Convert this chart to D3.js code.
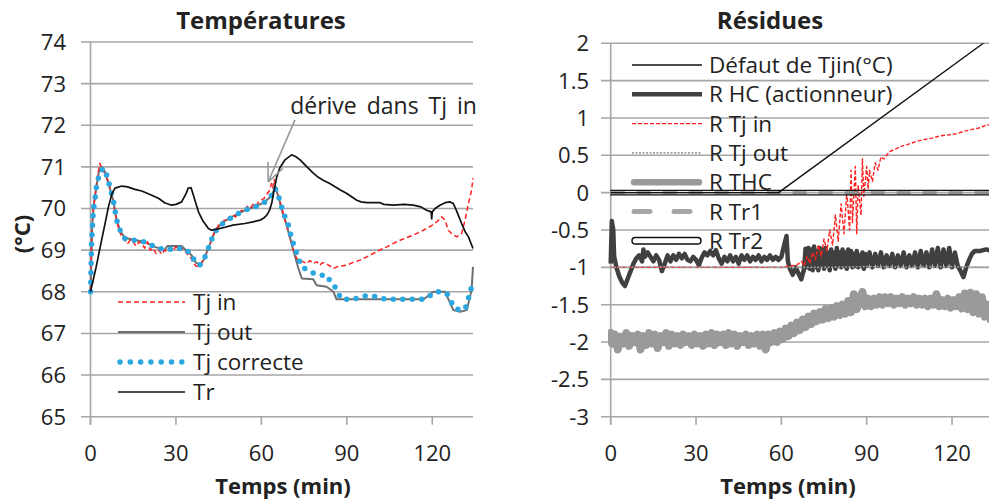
<!DOCTYPE html>
<html><head><meta charset="utf-8">
<script src="https://cdn.jsdelivr.net/npm/d3@7"></script>
<style>
html,body{margin:0;padding:0;background:#fff;}
text{font-family:"Open Sans","Noto Sans",sans-serif;fill:#222;}
</style></head>
<body>
<svg id="c" width="989" height="504"></svg>
<script>
// ---------- DATA ----------
const xTicks = [0, 30, 60, 90, 120];
const leftYTicks = [65, 66, 67, 68, 69, 70, 71, 72, 73, 74];
const rightYTicks = [-3, -2.5, -2, -1.5, -1, -0.5, 0, 0.5, 1, 1.5, 2];
const leftLegend = ["Tj in", "Tj out", "Tj correcte", "Tr"];
const rightLegend = ["Défaut de Tjin(°C)", "R HC (actionneur)", "R Tj in", "R Tj out", "R THC", "R Tr1", "R Tr2"];

const tr = [[0,68.0],[1,68.3],[2,68.6],[2.7,68.84],[3.9,69.24],[5,69.6],[6.3,70.04],[7.5,70.35],[8.6,70.49],[11,70.54],[13,70.52],[15.6,70.46],[18,70.42],[21.5,70.32],[24,70.24],[26,70.14],[28.5,70.08],[30,70.1],[32,70.16],[33.5,70.35],[34.3,70.49],[35.3,70.5],[36,70.35],[37.9,69.92],[39.5,69.7],[41.4,69.52],[42.5,69.48],[44,69.5],[47.2,69.55],[50,69.6],[54.2,69.64],[57,69.68],[59.5,69.72],[61,69.78],[61.9,69.84],[62.8,69.95],[63.6,70.12],[64.5,70.45],[65.4,70.76],[66.5,70.98],[68.3,71.17],[70.6,71.29],[72,71.25],[73.6,71.17],[76,71.0],[78.2,70.85],[80,70.75],[81.7,70.68],[84,70.6],[87.6,70.45],[90,70.36],[93.5,70.2],[95,70.16],[97,70.14],[101.7,70.14],[103,70.1],[106.3,70.08],[110,70.1],[113.3,70.08],[116,70.04],[118,69.96],[119.6,69.92],[119.8,69.75],[120,69.92],[121,70.0],[122.7,70.08],[124.5,70.14],[126.2,70.16],[127.4,70.12],[128.5,69.95],[130.3,69.64],[131.5,69.45],[132.7,69.32],[134.3,69.04]];

const tjCorrecte = [[0,68.0],[0.2,68.6],[0.4,69.24],[1,69.96],[1.6,70.24],[2.2,70.6],[3.3,70.85],[4.5,70.97],[5.7,70.8],[6.8,70.52],[8,70.2],[9.2,69.72],[10.4,69.48],[12.1,69.28],[15,69.24],[19.1,69.2],[22.6,69.08],[26.2,69.0],[29.7,69.04],[33.2,69.04],[35.5,68.88],[36.7,68.72],[38.4,68.64],[40.2,68.84],[42,69.16],[43.1,69.36],[44.9,69.56],[47.2,69.68],[50.7,69.84],[54.2,69.96],[57.8,70.04],[61.3,70.16],[63.6,70.32],[64.8,70.49],[65.9,70.32],[67.1,70.04],[68.3,69.8],[69.5,69.6],[70.6,69.28],[71.8,69.04],[73,68.8],[74.2,68.6],[77.1,68.48],[80,68.4],[82.9,68.4],[84.7,68.19],[85.8,68.12],[87,67.96],[88.2,67.82],[92.3,67.82],[96.4,67.9],[99.3,67.9],[101.7,67.84],[105.2,67.82],[112.2,67.82],[116.9,67.82],[118.6,67.88],[121,68.0],[123,68.0],[125.1,67.96],[126.8,67.74],[128.6,67.58],[131.5,67.58],[132.7,67.84],[133.8,68.12]];

const tjOut = [[0,68.0],[0.3,68.8],[0.6,69.6],[1.2,70.1],[2,70.5],[3,70.9],[4,71.0],[5,70.9],[6.5,70.55],[8,70.2],[9.2,69.72],[10.5,69.45],[12,69.3],[15,69.25],[19,69.2],[22.6,69.08],[26,69.0],[27,69.1],[32,69.1],[33.5,69.0],[35.5,68.88],[37,68.7],[38.5,68.65],[40,68.8],[42,69.16],[44,69.5],[47,69.7],[51,69.85],[54,69.95],[58,70.05],[61,70.15],[63.5,70.3],[64.8,70.5],[66,70.3],[67,70.0],[68.9,69.6],[71.2,69.0],[73,68.56],[74.2,68.32],[78.2,68.3],[79.4,68.16],[82.9,68.12],[85.3,68.0],[86.4,67.82],[117,67.82],[120.4,68.0],[124.5,68.0],[127.4,67.56],[129.7,67.52],[132.1,67.56],[133.8,68.04],[134.3,68.6]];

const tjIn = [[0,68.0],[0.2,68.7],[0.5,69.5],[1,70.0],[1.8,70.4],[2.5,70.8],[3.3,71.09],[4,70.95],[5,70.85],[6,70.7],[7,70.45],[8,70.15],[9,69.75],[10,69.5],[11,69.3],[12,69.25],[13,69.15],[14,69.25],[15,69.2],[16,69.1],[17,69.2],[18,69.15],[19,69.05],[20,69.2],[21,69.0],[22,69.05],[23,68.92],[24,69.0],[25,68.9],[26,69.0],[27,68.95],[28,69.05],[29,69.0],[30,69.08],[31,69.0],[32,69.05],[33,69.0],[34,68.9],[35,68.85],[36,68.7],[37,68.62],[38,68.6],[39,68.68],[40,68.8],[41,69.0],[42,69.15],[43,69.35],[44,69.5],[45,69.6],[46,69.65],[47,69.72],[48,69.7],[49,69.8],[50,69.85],[51,69.8],[52,69.9],[53,69.95],[54,69.95],[55,70.05],[56,70.0],[57,70.1],[58,70.05],[59,70.15],[60,70.2],[61,70.25],[62,70.35],[63,70.45],[63.5,70.6],[64,70.5],[64.5,70.7],[65,70.55],[66,70.3],[67,70.05],[68,69.8],[69,69.55],[70,69.3],[71,69.05],[72.4,68.8],[73.5,68.75],[74.7,68.72],[76,68.68],[77,68.75],[78.2,68.68],[79.5,68.72],[80.5,68.64],[81.5,68.7],[82.9,68.67],[84,68.62],[85.3,68.56],[86.5,68.6],[88,68.62],[90,68.64],[92,68.7],[94.6,68.76],[97,68.84],[99.3,68.92],[101.5,69.0],[104,69.08],[106,69.15],[108.7,69.24],[111,69.3],[113.3,69.36],[116,69.45],[118,69.52],[120,69.6],[121.6,69.68],[123.3,69.8],[124.5,69.72],[125.6,69.48],[126.8,69.4],[128.6,69.32],[130.3,69.4],[131.5,69.72],[132.7,70.12],[133.8,70.44],[134.3,70.73]];

const defaut = [[0,0],[59,0],[131,2],[134,2.08]];

const rHC = [[0,-0.95],[0.4,-0.38],[0.9,-0.5],[1.2,-0.85],[2,-1.0],[3,-1.12],[4,-1.2],[5,-1.25],[6,-1.15],[7,-1.05],[8,-0.95],[9,-0.88],[10,-0.84],[11,-0.92],[11.5,-0.76],[12,-0.86],[13,-0.8],[14,-0.86],[15,-0.92],[16,-0.84],[17,-0.9],[18,-1.05],[19,-0.95],[20,-0.84],[21,-0.92],[22,-0.84],[23,-0.9],[24,-0.82],[25,-0.88],[26,-0.82],[27,-0.9],[28,-0.92],[29,-0.86],[30,-0.9],[31,-0.97],[32,-0.87],[33,-0.8],[34,-0.84],[35,-0.78],[36,-0.84],[37,-0.77],[38,-0.88],[39,-0.95],[40,-0.86],[41,-0.92],[42,-0.84],[43,-0.92],[44,-0.86],[45,-0.95],[46,-0.84],[47,-0.9],[48,-0.84],[49,-0.92],[50,-0.86],[51,-0.9],[52,-0.84],[53,-0.92],[54,-0.86],[55,-0.9],[56,-0.84],[57,-0.9],[58,-0.86],[59,-0.9],[60,-0.86],[61,-0.7],[61.8,-0.58],[62.3,-0.92],[63,-1.02],[64,-1.1],[65,-1.0],[66,-1.08],[67,-1.16],[68,-1.02],[68.5,-0.75],[69,-1.0],[69.5,-0.74],[70,-1.02],[70.5,-0.76],[71,-1.04],[71.5,-0.72],[72,-1.0],[72.5,-0.78],[73,-1.04],[73.5,-0.74],[74,-0.98],[74.5,-0.76],[75,-1.02],[75.5,-0.74],[76,-0.98],[76.5,-0.8],[77,-1.04],[77.5,-0.76],[78,-0.98],[78.5,-0.8],[79,-1.02],[79.5,-0.74],[80,-0.98],[80.5,-0.8],[81,-1.0],[81.5,-0.76],[82,-0.98],[82.5,-0.8],[83,-1.02],[83.5,-0.76],[84,-0.96],[84.5,-0.78],[85,-1.0],[85.5,-0.82],[86,-0.98],[86.5,-0.78],[87,-1.0],[87.5,-0.84],[88,-0.98],[88.5,-0.8],[89,-1.02],[89.5,-0.82],[90,-0.98],[91,-0.8],[92,-1.0],[93,-0.82],[94,-0.98],[95,-0.8],[96,-1.0],[97,-0.84],[98,-0.98],[99,-0.82],[100,-1.0],[101,-0.84],[102,-0.98],[103,-0.8],[104,-1.0],[105,-0.84],[106,-0.98],[107,-0.8],[108,-1.0],[109,-0.78],[110,-0.98],[111,-0.8],[112,-1.0],[113,-0.76],[114,-0.98],[115,-0.74],[116,-1.0],[117,-0.76],[118,-0.98],[119,-0.74],[120,-1.0],[121,-0.8],[122,-0.98],[123,-1.05],[124,-1.13],[125,-1.0],[126,-0.9],[127,-0.82],[128,-0.78],[130,-0.78],[132,-0.76],[134,-0.78]];

const rTjIn = [[0,-1.0],[20,-1.0],[40,-1.0],[60,-1.0],[63,-0.98],[65.4,-0.97],[67,-0.92],[68,-0.98],[69,-0.85],[70,-0.95],[71,-0.8],[72,-0.9],[73,-0.7],[74,-0.85],[75,-0.62],[76,-0.78],[77,-0.5],[78,-0.7],[79,-0.3],[80,-0.65],[81,-0.15],[82,-0.55],[83,0.0],[84,-0.5],[84.5,0.3],[85,-0.4],[86,0.35],[86.5,-0.55],[87,0.1],[88,-0.3],[88.5,0.45],[89,-0.05],[90,0.35],[90.5,0.05],[91,0.3],[92,0.15],[93,0.4],[94,0.3],[95,0.48],[96,0.45],[98,0.55],[100.5,0.59],[102,0.62],[104,0.64],[107,0.68],[109.9,0.71],[113,0.73],[115.7,0.76],[118,0.77],[121.6,0.79],[124,0.82],[127.5,0.85],[130,0.87],[132.2,0.91],[134,0.9]];

const rTjOut = [[0,-1.0],[15,-0.99],[30,-1.0],[45,-0.99],[60,-1.0],[75,-1.0],[90,-0.99],[105,-1.0],[120,-0.99],[134,-1.0]];

const rTHC = [[0,-1.88],[0.5,-2.02],[1.5,-1.9],[2.5,-2.1],[3.5,-1.93],[4.5,-2.02],[5.5,-1.88],[6.5,-2.05],[7.5,-1.92],[8.5,-2.0],[9.5,-1.9],[10.5,-2.1],[11.5,-1.92],[12.5,-2.04],[13.5,-1.88],[14.5,-2.02],[15.5,-1.9],[16.5,-2.08],[17.5,-1.92],[18.5,-2.0],[19.5,-1.88],[20.5,-2.05],[21.5,-1.9],[22.5,-2.02],[23.5,-1.92],[24.5,-2.04],[25.5,-1.9],[26.5,-2.0],[27.5,-1.92],[28.5,-2.04],[29.5,-1.9],[30.5,-2.02],[31.5,-1.92],[32.5,-2.05],[33.5,-1.9],[34.5,-2.02],[35.5,-1.88],[36.5,-2.04],[37.5,-1.9],[38.5,-2.0],[39.5,-1.9],[40.5,-2.04],[41.5,-1.88],[42.5,-2.02],[43.5,-1.9],[44.5,-2.05],[45.5,-1.92],[46.5,-2.0],[47.5,-1.9],[48.5,-2.04],[49.5,-1.92],[50.5,-2.02],[51.5,-1.9],[52.5,-2.05],[53.5,-1.9],[54.5,-2.1],[55.5,-1.9],[56.5,-2.0],[57.5,-1.88],[58.5,-2.0],[59.5,-1.86],[60.5,-1.96],[61.5,-1.82],[62.5,-1.92],[63.5,-1.78],[64.5,-1.88],[65.5,-1.74],[66.5,-1.84],[67.5,-1.7],[68.5,-1.8],[69.5,-1.66],[70.5,-1.76],[71.5,-1.62],[72.5,-1.72],[73.5,-1.6],[74.5,-1.7],[75.5,-1.56],[76.5,-1.68],[77.5,-1.55],[78.5,-1.66],[79.5,-1.52],[80.5,-1.64],[81.5,-1.5],[82.5,-1.62],[83.5,-1.45],[84.5,-1.6],[85.5,-1.36],[86.5,-1.56],[87.5,-1.42],[88.5,-1.33],[89.5,-1.52],[90.5,-1.42],[91.5,-1.52],[92.5,-1.42],[93.5,-1.5],[94.5,-1.4],[95.5,-1.5],[96.5,-1.4],[97.5,-1.48],[98.5,-1.4],[99.5,-1.5],[100.5,-1.42],[101.5,-1.48],[102.5,-1.4],[103.5,-1.5],[104.5,-1.42],[105.5,-1.48],[106.5,-1.4],[107.5,-1.5],[108.5,-1.42],[109.5,-1.5],[110.5,-1.42],[111.5,-1.52],[112.5,-1.42],[113.5,-1.5],[114.5,-1.36],[115.5,-1.52],[116.5,-1.44],[117.5,-1.52],[118.5,-1.42],[119.5,-1.54],[120.5,-1.44],[121.5,-1.52],[122.5,-1.4],[123.5,-1.55],[124.5,-1.35],[125.5,-1.56],[126.5,-1.34],[127.5,-1.6],[128.5,-1.36],[129.5,-1.62],[130.5,-1.4],[131.5,-1.66],[132.5,-1.5],[133.5,-1.7],[134,-1.62]];

const rTr1 = [[0,0],[134,0]];
const rTr2 = [[0,0],[134,0]];

// annotation (data units)
const annoText = "dérive dans Tj in";
const annoFrom = [71.8, 72.13];
const annoTo = [62.4, 70.64];
const annoLabelPos = [70.1, 72.28];

// ---------- DRAW ----------
const svg = d3.select("#c");
svg.append("rect").attr("width",989).attr("height",504).attr("fill","#fff");
const gridCol = "#a6a6a6";
const FS = 22;
const LFS = 22.5;

const xL = d3.scaleLinear().domain([0,134.3]).range([90.5,473]);
const yL = d3.scaleLinear().domain([65,74]).range([416.7,42]);
const xR = d3.scaleLinear().domain([0,133]).range([610.7,989]);
const yR = d3.scaleLinear().domain([-3,2]).range([416.7,43.3]);

const defs = svg.append("defs");
defs.append("clipPath").attr("id","clipL").append("rect").attr("x",88).attr("y",40).attr("width",386).attr("height",380);
defs.append("clipPath").attr("id","clipR").append("rect").attr("x",608).attr("y",43.3).attr("width",381).attr("height",376);

function frame(x, y, yTicks, gridX0, gridX1, labelX, fmt){
  const g = svg.append("g");
  g.selectAll("line.grid").data(yTicks).enter().append("line")
    .attr("x1",gridX0).attr("x2",gridX1)
    .attr("y1",d=>y(d)).attr("y2",d=>y(d))
    .attr("stroke",gridCol).attr("stroke-width",1.6);
  g.append("line").attr("x1",x(0)).attr("x2",x(0))
    .attr("y1",y.range()[1]).attr("y2",y.range()[0]+8)
    .attr("stroke",gridCol).attr("stroke-width",1.6);
  g.selectAll("line.xt").data(xTicks).enter().append("line")
    .attr("x1",d=>x(d)).attr("x2",d=>x(d))
    .attr("y1",y.range()[0]).attr("y2",y.range()[0]+8)
    .attr("stroke",gridCol).attr("stroke-width",1.6);
  g.selectAll("text.yl").data(yTicks).enter().append("text")
    .attr("x",labelX).attr("y",d=>y(d)).attr("dy","0.36em")
    .attr("text-anchor","end").attr("font-size",FS).text(fmt);
  g.selectAll("text.xl").data(xTicks).enter().append("text")
    .attr("x",d=>x(d)).attr("y",461)
    .attr("text-anchor","middle").attr("font-size",FS).text(d=>d);
}
frame(xL, yL, leftYTicks, 81, 473, 66, d=>d);
frame(xR, yR, rightYTicks, 601, 989, 589, d=>d);

svg.append("text").attr("x",261).attr("y",29).attr("text-anchor","middle")
  .attr("font-size",24).attr("font-weight","bold").text("Températures");
svg.append("text").attr("x",770).attr("y",29).attr("text-anchor","middle")
  .attr("font-size",24).attr("font-weight","bold").text("Résidues");
svg.append("text").attr("x",283).attr("y",494).attr("text-anchor","middle")
  .attr("font-size",22).attr("font-weight","bold").text("Temps (min)");
svg.append("text").attr("x",788).attr("y",494).attr("text-anchor","middle")
  .attr("font-size",22).attr("font-weight","bold").text("Temps (min)");
svg.append("text").attr("transform","translate(30,234) rotate(-90)").attr("text-anchor","middle")
  .attr("font-size",22).attr("font-weight","bold").text("(°C)");

// left series
const lineL = d3.line().x(d=>xL(d[0])).y(d=>yL(d[1]));
const gL = svg.append("g").attr("clip-path","url(#clipL)");
const leftStyles = {
  "Tj in":       {col:"#ff1f1f", w:1.5, dash:"5,3", cap:"butt"},
  "Tj out":      {col:"#6f6f6f", w:2, dash:null, cap:"butt"},
  "Tj correcte": {col:"#2aa7e0", w:5.5, dash:"0,9.5", cap:"round"},
  "Tr":          {col:"#111", w:1.7, dash:null, cap:"butt"}
};
const leftData = {"Tj in":tjIn, "Tj out":tjOut, "Tj correcte":tjCorrecte, "Tr":tr};
["Tj out","Tj in","Tj correcte","Tr"].forEach(k=>{
  const s = leftStyles[k];
  gL.append("path").datum(leftData[k]).attr("d",lineL).attr("fill","none")
    .attr("stroke",s.col).attr("stroke-width",s.w).attr("stroke-dasharray",s.dash)
    .attr("stroke-linecap",s.cap).attr("stroke-linejoin","round");
});

const legL = svg.append("g");
leftLegend.forEach((k,i)=>{
  const yy = 302 + i*30;
  const s = leftStyles[k];
  legL.append("line").attr("x1",k==="Tj correcte"?120:118).attr("x2",185).attr("y1",yy).attr("y2",yy)
    .attr("stroke",s.col).attr("stroke-width",s.w).attr("stroke-dasharray",k==="Tj correcte"?"0,10.3":s.dash)
    .attr("stroke-linecap",s.cap);
  legL.append("text").attr("x",193).attr("y",yy).attr("dy","0.36em").attr("font-size",LFS).text(k);
});

// annotation
svg.append("line").attr("x1",xL(annoFrom[0])).attr("y1",yL(annoFrom[1]))
  .attr("x2",xL(annoTo[0])).attr("y2",yL(annoTo[1])).attr("stroke","#9a9a9a").attr("stroke-width",1.6);
(function(){
  const x2 = xL(annoTo[0]), y2 = yL(annoTo[1]);
  const ang = Math.atan2(yL(annoFrom[1])-y2, xL(annoFrom[0])-x2);
  [0.42,-0.42].forEach(a=>{
    svg.append("line").attr("x1",x2).attr("y1",y2)
      .attr("x2",x2+20*Math.cos(ang+a)).attr("y2",y2+20*Math.sin(ang+a))
      .attr("stroke","#9a9a9a").attr("stroke-width",1.6);
  });
})();
svg.append("text").attr("x",xL(annoLabelPos[0])).attr("y",yL(annoLabelPos[1]))
  .attr("font-size",23).attr("word-spacing","4px").text(annoText);

// right series
const lineR = d3.line().x(d=>xR(d[0])).y(d=>yR(d[1]));
const gR = svg.append("g").attr("clip-path","url(#clipR)");
const rightStyles = {
  "Défaut de Tjin(°C)": {col:"#111", w:1.4, dash:null, cap:"butt"},
  "R HC (actionneur)":  {col:"#404040", w:4.5, dash:null, cap:"butt"},
  "R Tj in":            {col:"#ff1f1f", w:1.4, dash:"4,2", cap:"butt"},
  "R Tj out":           {col:"#a0a0a0", w:1.6, dash:"2,1.5", cap:"butt"},
  "R THC":              {col:"#9a9a9a", w:7, dash:null, cap:"round"},
  "R Tr1":              {col:"#a6a6a6", w:5, dash:"14,26", cap:"round"},
  "R Tr2":              {col:"#111", w:1.3, dash:null, cap:"round"}
};
function drawR(data, s){
  return gR.append("path").datum(data).attr("d",lineR).attr("fill","none")
    .attr("stroke",s.col).attr("stroke-width",s.w).attr("stroke-dasharray",s.dash)
    .attr("stroke-linecap",s.cap).attr("stroke-linejoin","round");
}
drawR(rHC, rightStyles["R HC (actionneur)"]);
drawR(rTjIn, rightStyles["R Tj in"]);
drawR(rTjOut, rightStyles["R Tj out"]);
drawR(rTHC, rightStyles["R THC"]).attr("stroke-width",8);
drawR(rTr1, {col:"#8c8c8c", w:3, dash:"14,12", cap:"butt"});
drawR(rTr2, rightStyles["R Tr2"]).attr("transform","translate(0,-2.3)");
drawR(rTr2, rightStyles["R Tr2"]).attr("transform","translate(0,2.3)");
drawR(defaut, rightStyles["Défaut de Tjin(°C)"]);

const legR = svg.append("g");
rightLegend.forEach((k,i)=>{
  const yy = 65 + i*29.3;
  const s = rightStyles[k];
  if(k==="R Tr2"){
    legR.append("rect").attr("x",632).attr("y",yy-3.3).attr("width",69).attr("height",6.6)
      .attr("rx",3.3).attr("fill","#fff").attr("stroke","#111").attr("stroke-width",1.5);
  } else {
    legR.append("line").attr("x1",k==="R THC"||k==="R Tr1"?634:632).attr("x2",k==="R THC"||k==="R Tr1"?699:702)
      .attr("y1",yy).attr("y2",yy)
      .attr("stroke",s.col).attr("stroke-width",k==="R THC"?6.5:s.w).attr("stroke-dasharray",k==="R Tr1"?"16,24":s.dash)
      .attr("stroke-linecap",s.cap);
  }
  legR.append("text").attr("x",709).attr("y",yy).attr("dy","0.36em").attr("font-size",LFS).text(k);
});
</script>
</body></html>
